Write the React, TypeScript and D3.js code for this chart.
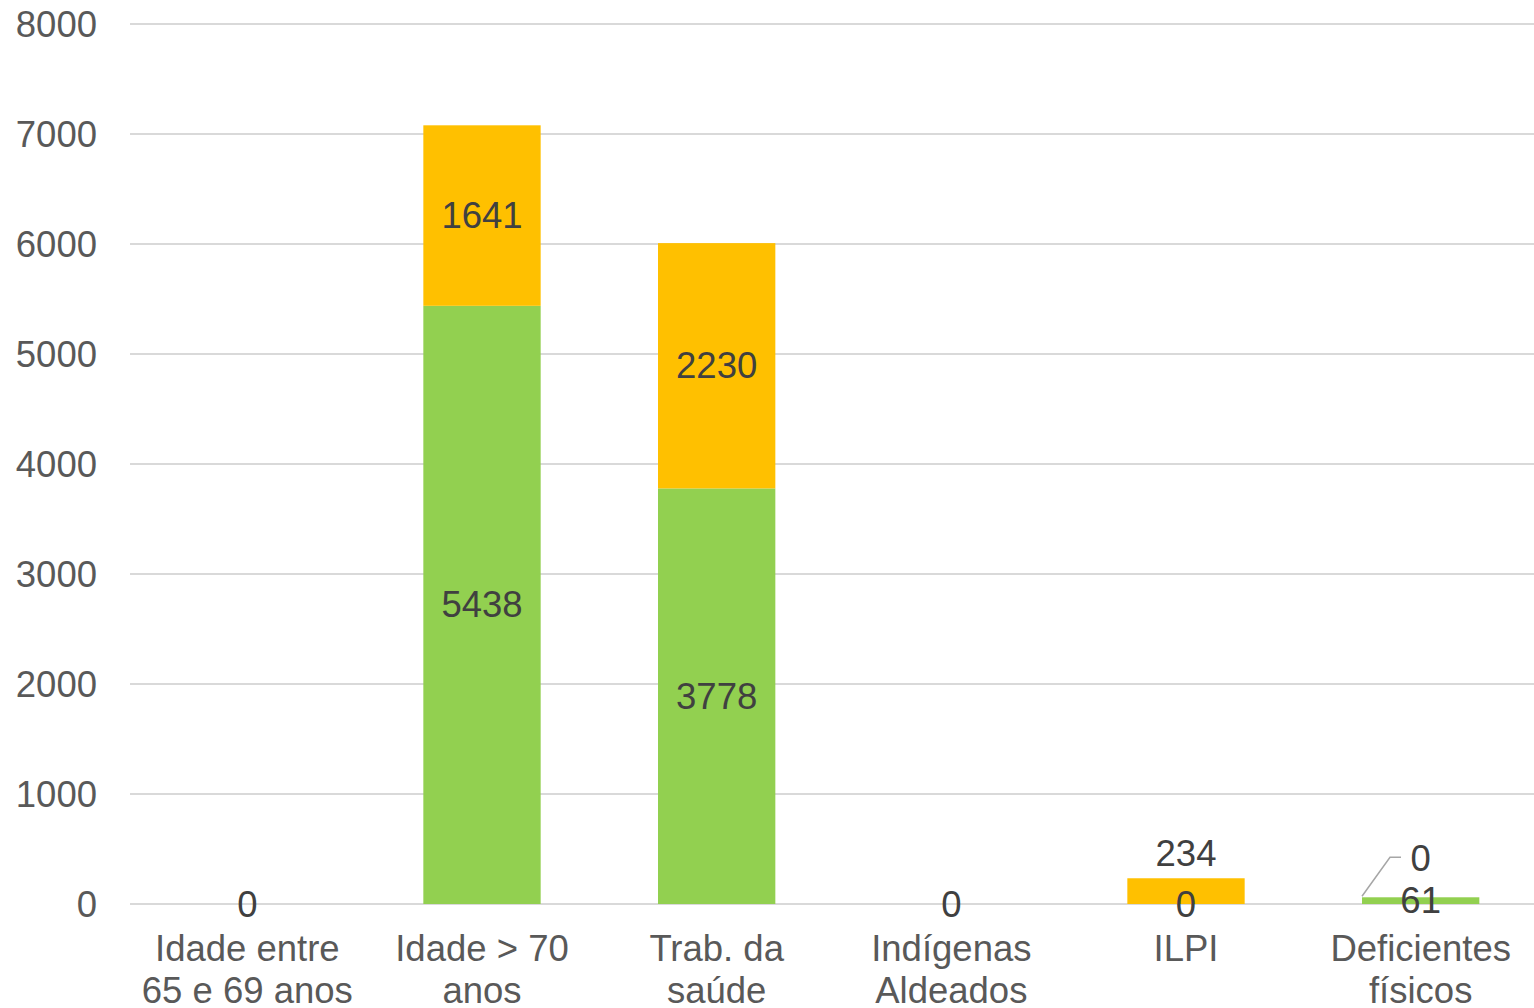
import * as d3 from "d3"

const categories = [
  ["Idade entre", "65 e 69 anos"],
  ["Idade > 70", "anos"],
  ["Trab. da", "saúde"],
  ["Indígenas", "Aldeados"],
  ["ILPI"],
  ["Deficientes", "físicos"],
]
const greenValues = [0, 5438, 3778, 0, 0, 61]
const orangeValues = [0, 1641, 2230, 0, 234, 0]
const yTicks = [0, 1000, 2000, 3000, 4000, 5000, 6000, 7000, 8000]

const width = 1534
const height = 1008
const margin = { top: 24, right: -4, bottom: 104, left: 130 }
const font = "'Liberation Sans', Arial, sans-serif"
const fs = 36.5

export default function App() {
  const x = d3
    .scaleBand<number>()
    .domain(d3.range(categories.length))
    .range([margin.left, width - margin.right])
    .paddingInner(0.5)
    .paddingOuter(0.25)
  const y = d3.scaleLinear().domain([0, 8000]).range([height - margin.bottom, margin.top])

  const stack = d3
    .stack<number>()
    .keys(["green", "orange"])
    .value((i, key) => (key === "green" ? greenValues[i] : orangeValues[i]))
  const series = stack(d3.range(categories.length))
  const colors = ["#92D050", "#FFC000"]

  return (
    <div style={{ position: "absolute", left: 0, top: 0 }}>
      <svg width={width} height={height} style={{ display: "block" }} fontFamily={font}>
        <rect width={width} height={height} fill="#fff" />
        {yTicks.map((t) => (
          <g key={t}>
            <line x1={margin.left} x2={width} y1={y(t)} y2={y(t)} stroke="#D9D9D9" strokeWidth={2} />
            <text x={97} y={y(t)} textAnchor="end" dominantBaseline="central" fontSize={fs} fill="#595959">
              {t}
            </text>
          </g>
        ))}
        {series.map((s, si) =>
          s.map((d, i) => {
            const h = y(d[0]) - y(d[1])
            if (h <= 0) return null
            return (
              <rect
                key={`${si}-${i}`}
                x={x(i)}
                y={y(d[1])}
                width={x.bandwidth()}
                height={h}
                fill={colors[si]}
              />
            )
          })
        )}
        {series.map((s, si) =>
          s.map((d, i) => {
            const v = d[1] - d[0]
            const cx = x(i)! + x.bandwidth() / 2
            const h = y(d[0]) - y(d[1])
            let cy = (y(d[0]) + y(d[1])) / 2
            let leader = null
            if (si === 1 && v > 0 && h < 40) {
              cy = y(d[1]) - 25
            }
            if (si === 1 && v === 0 && greenValues[i] > 0) {
              cy = y(d[1]) - 39
              const x0 = x(i)!
              leader = (
                <polyline
                  points={`${x0},${y(d[1]) - 1} ${x0 + 28},${cy - 1} ${x0 + 39},${cy - 1}`}
                  fill="none"
                  stroke="#A6A6A6"
                  strokeWidth={1.5}
                />
              )
            }
            if (si === 1 && v === 0 && greenValues[i] === 0) return null
            return (
              <g key={`l-${si}-${i}`}>
                {leader}
                <text
                  x={cx}
                  y={cy}
                  textAnchor="middle"
                  dominantBaseline="central"
                  fontSize={fs}
                  fill="#404040"
                >
                  {v}
                </text>
              </g>
            )
          })
        )}
        {categories.map((lines, i) => (
          <text
            key={i}
            x={x(i)! + x.bandwidth() / 2}
            textAnchor="middle"
            fontSize={fs}
            fill="#595959"
          >
            {lines.map((ln, j) => (
              <tspan key={j} x={x(i)! + x.bandwidth() / 2} y={948 + j * 42} dominantBaseline="central">
                {ln}
              </tspan>
            ))}
          </text>
        ))}
      </svg>
    </div>
  )
}
